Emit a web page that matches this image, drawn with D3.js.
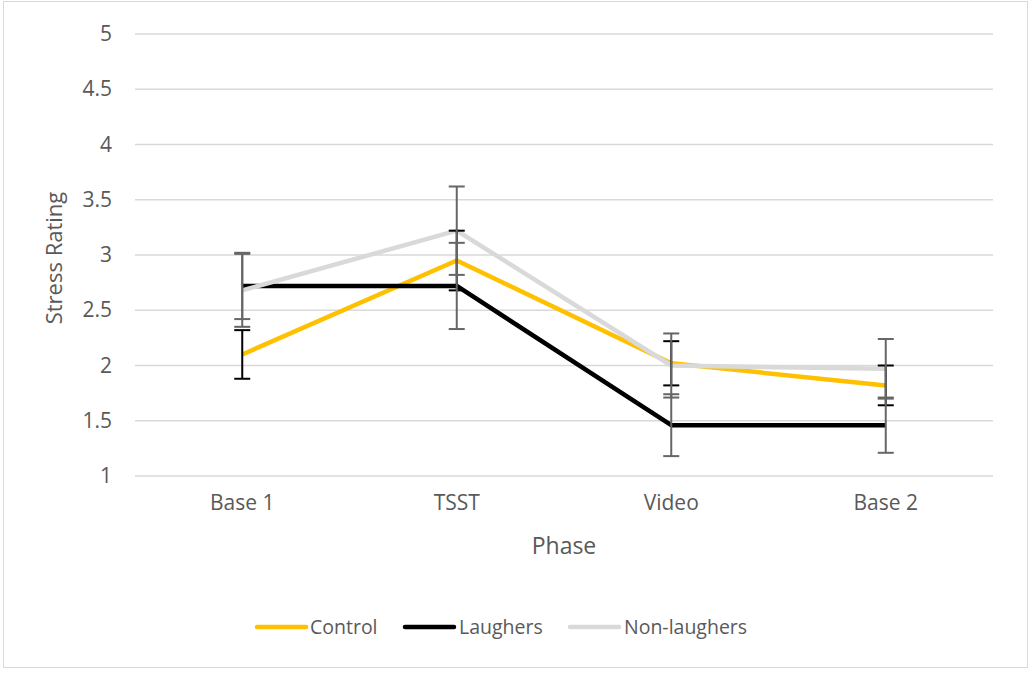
<!DOCTYPE html>
<html>
<head>
<meta charset="utf-8">
<script src="https://cdn.jsdelivr.net/npm/d3@7"></script>
<style>
  body { margin: 0; background: #fff; }
  text { font-family: "Open Sans", "Noto Sans", sans-serif; fill: #595959; }
</style>
</head>
<body>
<div id="chart"></div>
<script>
// data
var phases = ["Base 1", "TSST", "Video", "Base 2"];
var seriesNames = ["Control", "Laughers", "Non-laughers"];
var controlMean = [2.1, 2.95, 2.02, 1.82];
var controlErr = [0.22, 0.27, 0.2, 0.18];
var laughersMean = [2.72, 2.72, 1.46, 1.46];
var laughersErr = [0.3, 0.39, 0.28, 0.25];
var nonLaughersMean = [2.68, 3.22, 2.0, 1.97];
var nonLaughersErr = [0.33, 0.4, 0.29, 0.27];
var yTicks = [1, 1.5, 2, 2.5, 3, 3.5, 4, 4.5, 5];

var colors = ["#FFC000", "#000000", "#D9D9D9"];
var errColors = ["#000000", "#666666", "#666666"];

var svgWidth = 1029;
var svgHeight = 673;

var margin = { top: 34, right: 36, bottom: 197, left: 135 };
var width = svgWidth - margin.left - margin.right;
var height = svgHeight - margin.top - margin.bottom;

var series = [
    { name: seriesNames[0], mean: controlMean, err: controlErr },
    { name: seriesNames[1], mean: laughersMean, err: laughersErr },
    { name: seriesNames[2], mean: nonLaughersMean, err: nonLaughersErr }
];

var svg = d3.select("#chart")
    .append("svg")
    .attr("width", svgWidth)
    .attr("height", svgHeight);

// chart border
svg.append("rect")
    .attr("x", 3.5)
    .attr("y", 1.5)
    .attr("width", 1024)
    .attr("height", 666)
    .attr("fill", "none")
    .attr("stroke", "#d9d9d9")
    .attr("stroke-width", 1);

var chartGroup = svg.append("g")
    .attr("transform", `translate(${margin.left}, ${margin.top})`);

var xScale = d3.scaleBand()
    .domain(phases)
    .range([0, width]);

var yScale = d3.scaleLinear()
    .domain([1, 5])
    .range([height, 0]);

var cx = d => xScale(d) + xScale.bandwidth() / 2;

// gridlines
chartGroup.selectAll(".grid")
    .data(yTicks)
    .enter()
    .append("line")
    .attr("x1", 0)
    .attr("x2", width)
    .attr("y1", d => yScale(d))
    .attr("y2", d => yScale(d))
    .attr("stroke", "#d9d9d9")
    .attr("stroke-width", 1.3);

// y axis labels
var leftAxis = d3.axisLeft(yScale)
    .tickValues(yTicks)
    .tickSize(0)
    .tickPadding(23)
    .tickFormat(d => d);

chartGroup.append("g")
    .call(leftAxis)
    .call(g => g.select(".domain").remove())
    .selectAll("text")
    .style("font-size", "21px")
    .style("font-family", null)
    .attr("fill", null);

// x axis labels
var bottomAxis = d3.axisBottom(xScale)
    .tickSize(0)
    .tickPadding(19);

chartGroup.append("g")
    .attr("transform", `translate(0, ${height})`)
    .call(bottomAxis)
    .call(g => g.select(".domain").remove())
    .selectAll("text")
    .style("font-size", "21px")
    .style("font-family", null)
    .attr("fill", null);

// axis titles
chartGroup.append("text")
    .attr("x", width / 2)
    .attr("y", height + 78)
    .attr("text-anchor", "middle")
    .style("font-size", "23px")
    .text("Phase");

chartGroup.append("text")
    .attr("transform", "rotate(-90)")
    .attr("x", -224)
    .attr("y", -73)
    .attr("text-anchor", "middle")
    .style("font-size", "22px")
    .text("Stress Rating");

// lines
var line = d3.line()
    .x((d, i) => cx(phases[i]))
    .y(d => yScale(d));

series.forEach(function(s, k) {
    chartGroup.append("path")
        .datum(s.mean)
        .attr("d", line)
        .attr("fill", "none")
        .attr("stroke", colors[k])
        .attr("stroke-width", 4.5)
        .attr("stroke-linejoin", "round");
});

// error bars
series.forEach(function(s, k) {
    var eg = chartGroup.append("g");
    s.mean.forEach(function(m, i) {
        var x = cx(phases[i]);
        var lo = yScale(m - s.err[i]);
        var hi = yScale(m + s.err[i]);
        eg.append("line")
            .attr("x1", x).attr("x2", x)
            .attr("y1", lo).attr("y2", hi)
            .attr("stroke", errColors[k])
            .attr("stroke-width", 2);
        [lo, hi].forEach(function(y) {
            eg.append("line")
                .attr("x1", x - 8).attr("x2", x + 8)
                .attr("y1", y).attr("y2", y)
                .attr("stroke", errColors[k])
                .attr("stroke-width", 2);
        });
    });
});

// legend
var legendItems = [
    { x: 257, tx: 310 },
    { x: 405, tx: 459 },
    { x: 570, tx: 624 }
];

var legend = svg.append("g");
series.forEach(function(s, k) {
    legend.append("line")
        .attr("x1", legendItems[k].x)
        .attr("x2", legendItems[k].x + 49)
        .attr("y1", 627)
        .attr("y2", 627)
        .attr("stroke", colors[k])
        .attr("stroke-width", 4.5)
        .attr("stroke-linecap", "round");
    legend.append("text")
        .attr("x", legendItems[k].tx)
        .attr("y", 627)
        .attr("dy", "0.35em")
        .style("font-size", "19.5px")
        .text(s.name);
});
</script>
</body>
</html>
